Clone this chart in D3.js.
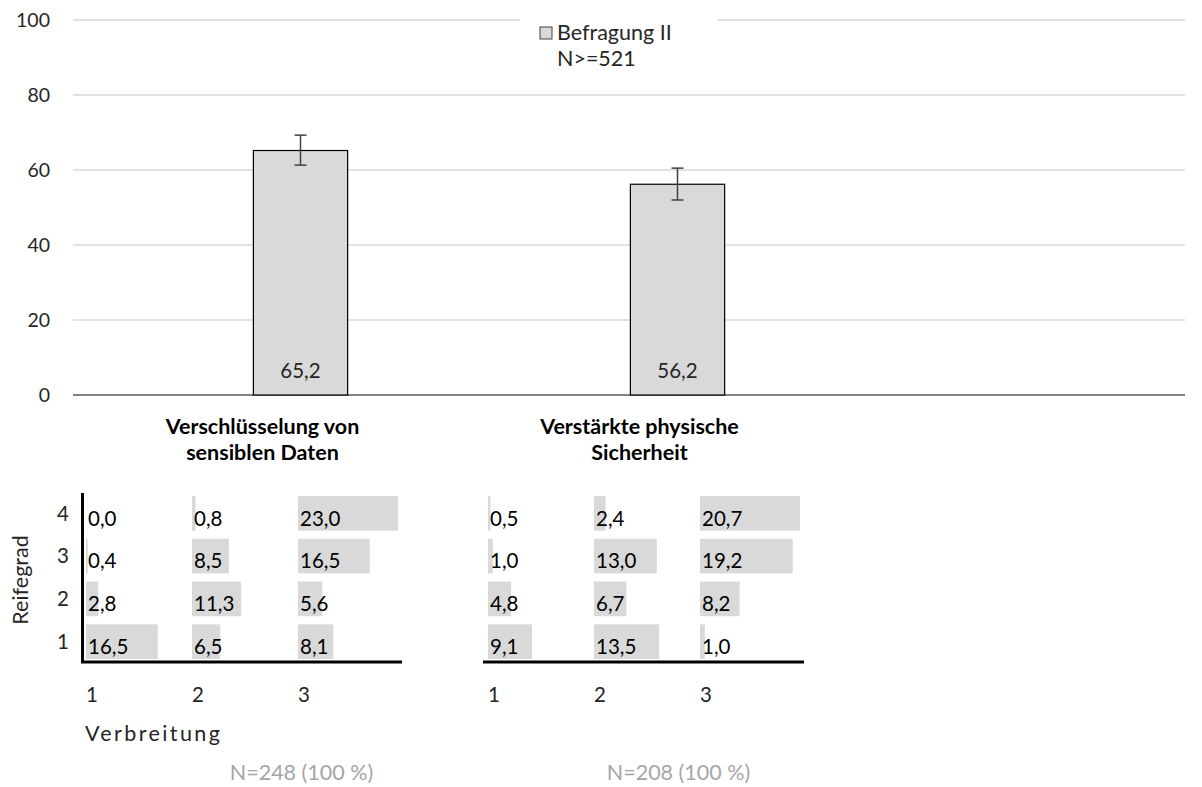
<!DOCTYPE html>
<html><head><meta charset="utf-8">
<script src="https://cdn.jsdelivr.net/npm/d3@7/dist/d3.min.js"></script>
<style>body{margin:0;background:#fff}svg{display:block}text{font-family:Lato,"Open Sans",sans-serif}</style>
</head><body><svg id="c" width="1202" height="787"></svg>
<script>
const categories = ["Verschlüsselung von|sensiblen Daten", "Verstärkte physische|Sicherheit"];
const values = [65.2, 56.2];
const errLow = [61.3, 52.0];
const errHigh = [69.3, 60.5];
const yTicks = [0, 20, 40, 60, 80, 100];
const legendLabel = "Befragung II";
const legendN = "N>=521";
const rowLabels = [4, 3, 2, 1];
const colLabels = [1, 2, 3];
const matrix1 = [[0.0, 0.8, 23.0], [0.4, 8.5, 16.5], [2.8, 11.3, 5.6], [16.5, 6.5, 8.1]];
const matrix2 = [[0.5, 2.4, 20.7], [1.0, 13.0, 19.2], [4.8, 6.7, 8.2], [9.1, 13.5, 1.0]];
const nLabels = ["N=248 (100 %)", "N=208 (100 %)"];

const svg = d3.select("#c");
const fmt = v => d3.format(".1f")(v).replace(".", ",");
const y = d3.scaleLinear().domain([0, 100]).range([395, 20]);
const x = d3.scaleBand().domain([0, 1, 2]).range([112, 1243]).paddingInner(0.75).paddingOuter(0.375);
const X0 = 73, X1 = 1185;
const WORD = 21.5, NUM = 20.5;

// grid
svg.append("g").selectAll("line").data(yTicks).join("line")
  .attr("x1", X0).attr("x2", X1).attr("y1", d => y(d)).attr("y2", d => y(d))
  .attr("stroke", d => d === 0 ? "#595959" : "#d9d9d9").attr("stroke-width", 1.3);
svg.append("g").selectAll("text").data(yTicks).join("text")
  .attr("x", 50).attr("y", d => y(d)).attr("dy", "0.35em").attr("text-anchor", "end")
  .attr("font-size", 19.5).attr("fill", "#262626").text(d => d);

// bars
const bw = x.bandwidth();
values.forEach((v, i) => {
  const cx = x(i) + bw / 2;
  svg.append("rect").attr("x", x(i)).attr("y", y(v)).attr("width", bw).attr("height", y(0) - y(v))
    .attr("fill", "#d9d9d9").attr("stroke", "#000").attr("stroke-width", 1.2);
  svg.append("line").attr("x1", cx).attr("x2", cx).attr("y1", y(errLow[i])).attr("y2", y(errHigh[i]))
    .attr("stroke", "#404040").attr("stroke-width", 1.5);
  [errLow[i], errHigh[i]].forEach(e => svg.append("line").attr("x1", cx - 6).attr("x2", cx + 6)
    .attr("y1", y(e)).attr("y2", y(e)).attr("stroke", "#404040").attr("stroke-width", 1.5));
  svg.append("text").attr("x", cx).attr("y", y(0) - 17).attr("text-anchor", "middle")
    .attr("font-size", NUM).attr("fill", "#262626").text(fmt(v));
  const lines = categories[i].split("|");
  lines.forEach((t, k) => svg.append("text").attr("x", cx - 38).attr("y", 434 + k * 26)
    .attr("text-anchor", "middle").attr("font-size", 21.5).attr("font-weight", "bold").attr("fill", "#000").text(t));
  svg.append("text").attr("x", cx + 1).attr("y", 780).attr("text-anchor", "middle")
    .attr("font-size", WORD).attr("fill", "#a6a6a6").text(nLabels[i]);
});

// legend
svg.append("rect").attr("x", 520).attr("y", 8).attr("width", 198).attr("height", 70).attr("fill", "#fff");
svg.append("rect").attr("x", 540).attr("y", 27).attr("width", 12).attr("height", 12)
  .attr("fill", "#d9d9d9").attr("stroke", "#404040").attr("stroke-width", 1);
svg.append("text").attr("x", 557).attr("y", 40).attr("font-size", WORD).attr("fill", "#262626").text(legendLabel);
svg.append("text").attr("x", 557).attr("y", 66).attr("font-size", WORD).attr("fill", "#262626").text(legendN);

// matrices
const yRow = d3.scaleBand().domain(rowLabels).range([496, 659]).paddingInner(0.19);
function panel(m, x0, withAxis) {
  const xc = d3.scaleBand().domain(colLabels).range([x0, x0 + 318]);
  const w = d3.scaleLinear().domain([0, d3.max(m.flat())]).range([0, 100]);
  const g = svg.append("g");
  m.forEach((row, ri) => row.forEach((v, ci) => {
    const r = rowLabels[ri], c = colLabels[ci];
    g.append("rect").attr("x", xc(c)).attr("y", yRow(r)).attr("width", w(v)).attr("height", yRow.bandwidth()).attr("fill", "#d9d9d9");
    g.append("text").attr("x", xc(c) + 2).attr("y", yRow(r) + yRow.bandwidth() - 5)
      .attr("font-size", NUM).attr("fill", "#000").text(fmt(v));
  }));
  g.append("line").attr("x1", x0 - 5).attr("x2", x0 + 316).attr("y1", 662).attr("y2", 662).attr("stroke", "#000").attr("stroke-width", 3);
  if (withAxis) {
    g.append("line").attr("x1", x0 - 3.5).attr("x2", x0 - 3.5).attr("y1", 493).attr("y2", 663).attr("stroke", "#000").attr("stroke-width", 3);
    rowLabels.forEach(r => g.append("text").attr("x", 69).attr("y", yRow(r) + yRow.bandwidth() / 2).attr("dy", "0.35em")
      .attr("text-anchor", "end").attr("font-size", NUM).attr("fill", "#262626").text(r));
  }
  colLabels.forEach(c => g.append("text").attr("x", xc(c)).attr("y", 702).attr("font-size", NUM).attr("fill", "#262626").text(c));
}
panel(matrix1, 86, true);
panel(matrix2, 488, false);

svg.append("text").attr("x", 85).attr("y", 741).attr("font-size", WORD).attr("letter-spacing", 2.4).attr("fill", "#262626").text("Verbreitung");
svg.append("text").attr("transform", "translate(28,580) rotate(-90)").attr("text-anchor", "middle")
  .attr("font-size", WORD).attr("fill", "#262626").text("Reifegrad");
</script></body></html>
